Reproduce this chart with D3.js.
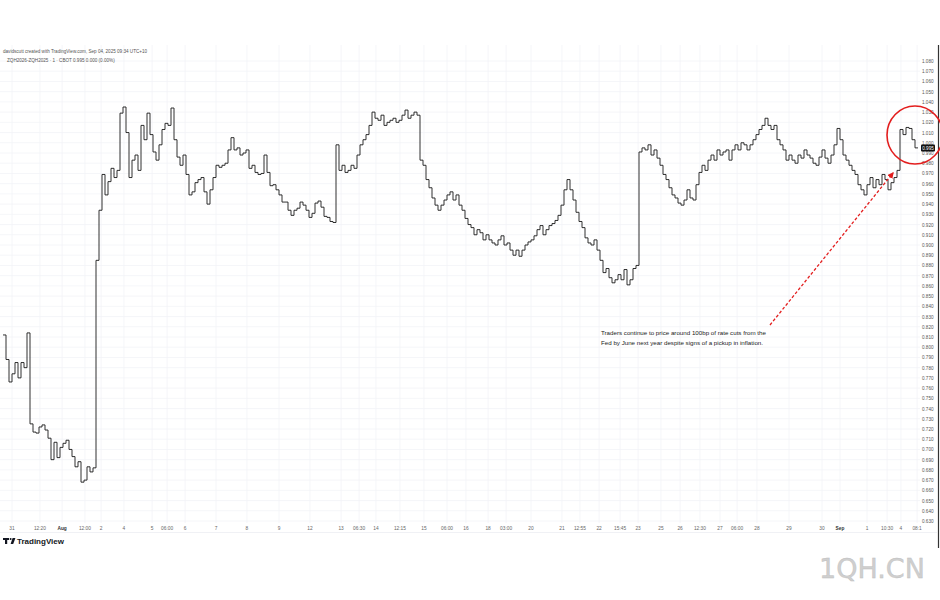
<!DOCTYPE html>
<html><head><meta charset="utf-8">
<script src="https://cdn.jsdelivr.net/npm/d3@7/dist/d3.min.js"></script>
<style>html,body{margin:0;padding:0;background:#fff;}svg{display:block;font-family:"Liberation Sans",Arial,sans-serif;}</style>
</head><body><svg id="c" width="940" height="600"></svg>
<script>
// Spread price per bar (ZQH2026-ZQH2025)
const prices = [
0.812,0.788,0.766,0.774,0.785,0.770,0.785,0.780,0.814,0.725,
0.717,0.716,0.722,0.724,0.719,0.711,0.690,0.707,0.692,0.702,
0.706,0.709,0.700,0.693,0.683,0.688,0.668,0.670,0.683,0.678,
0.682,0.885,0.934,0.969,0.949,0.962,0.975,0.966,0.973,1.029,
1.035,1.010,0.966,0.983,0.988,0.973,1.017,1.003,1.029,1.008,
0.991,0.983,0.998,1.013,1.019,1.017,1.034,1.003,0.986,0.978,
0.988,0.969,0.949,0.952,0.961,0.964,0.966,0.952,0.940,0.954,
0.966,0.978,0.976,0.978,0.980,0.993,1.005,0.993,0.995,0.988,
0.990,0.993,0.975,0.978,0.971,0.969,0.970,0.988,0.971,0.958,
0.959,0.954,0.949,0.942,0.942,0.934,0.929,0.934,0.936,0.942,
0.939,0.934,0.927,0.931,0.941,0.943,0.937,0.928,0.927,0.923,
0.922,0.998,0.973,0.978,0.971,0.973,0.978,0.975,0.988,0.998,
1.003,1.008,1.017,1.030,1.024,1.022,1.027,1.017,1.020,1.022,
1.024,1.020,1.022,1.027,1.032,1.024,1.027,1.030,1.027,0.983,
0.978,0.964,0.956,0.946,0.939,0.934,0.939,0.944,0.949,0.952,
0.944,0.949,0.939,0.934,0.926,0.920,0.917,0.910,0.915,0.912,
0.905,0.910,0.905,0.902,0.900,0.905,0.909,0.900,0.902,0.895,
0.890,0.895,0.889,0.895,0.900,0.903,0.905,0.909,0.915,0.919,
0.910,0.915,0.919,0.921,0.924,0.929,0.939,0.954,0.964,0.954,
0.944,0.932,0.923,0.917,0.907,0.902,0.900,0.905,0.895,0.885,
0.873,0.877,0.868,0.863,0.866,0.871,0.866,0.876,0.861,0.866,
0.877,0.880,0.991,0.995,0.993,0.998,0.988,0.993,0.985,0.978,
0.969,0.964,0.956,0.949,0.946,0.941,0.939,0.944,0.954,0.946,
0.944,0.959,0.971,0.978,0.973,0.983,0.988,0.983,0.993,0.988,
0.991,0.993,0.983,0.993,0.998,0.993,1.000,0.998,0.993,0.998,
1.003,1.008,1.013,1.017,1.024,1.017,1.013,1.017,1.003,0.998,
0.993,0.983,0.988,0.983,0.980,0.988,0.985,0.993,0.988,0.985,
0.980,0.978,0.986,0.993,0.985,0.980,0.988,0.998,1.014,1.003,
0.988,0.983,0.978,0.973,0.969,0.959,0.954,0.949,0.959,0.966,
0.956,0.964,0.959,0.969,0.964,0.954,0.961,0.966,0.973,1.013,
1.008,1.015,1.014,1.003,0.995,0.995
];
const lastPrice = "0.995";
const priceTicks = d3.range(63, 109).map(v => v / 100);
const timeLabels = ["31","12:20","Aug","12:00","2","4","5","06:00","6","7","8","9","12","13","06:30","14","12:15","15","06:00","16","18","03:00","20","21","12:55","22","15:45","23","25","26","12:30","27","06:00","28","29","30","Sep","1","10:30","4","08:1"];
const timeBars = [3,12.3,19.7,27.3,32.7,40.3,49.7,54.7,60.7,71,81.3,92,102.3,112.7,118.7,124.3,132.3,140.3,148,154.3,161.7,167.7,176,186.3,192.3,198.7,205.7,211.7,219.3,225.7,232.3,239,244.7,251.3,262,273,279,288,294.7,299.3,304.7];
const boldLabels = ["Aug","Sep"];
const headerLine1 = "davidscutt created with TradingView.com, Sep 04, 2025 09:34 UTC+10";
const headerLine2 = "ZQH2026-ZQH2025 · 1 · CBOT   0.995   0.000 (0.00%)";
const noteLines = ["Traders continue to price around 100bp of rate cuts from the","Fed by June next year despite signs of a pickup in inflation."];

const svg = d3.select("#c");
const x = d3.scaleLinear().domain([0, prices.length - 1]).range([3, 918]);
const y = d3.scaleLinear().domain([0.63, 1.08]).range([521, 61]);

// grid
const g = svg.append("g");
g.selectAll("line.h").data(priceTicks).join("line")
  .attr("x1", 0).attr("x2", 920).attr("y1", d => y(d)).attr("y2", d => y(d))
  .attr("stroke", "#f3f4f7").attr("stroke-width", 0.8);
g.selectAll("line.v").data(timeBars).join("line")
  .attr("x1", d => x(d)).attr("x2", d => x(d)).attr("y1", 45).attr("y2", 523)
  .attr("stroke", "#f3f4f7").attr("stroke-width", 0.8);

// price axis labels
const yAxis = d3.axisRight(y).tickValues(priceTicks).tickFormat(d3.format(".3f")).tickSize(0).tickPadding(0);
const ya = svg.append("g").attr("transform", "translate(922,0)").call(yAxis);
ya.select(".domain").remove();
ya.selectAll("text").attr("font-size", 4.6).attr("fill", "#555").attr("font-family", "Liberation Sans, Arial, sans-serif");

// time axis
const tg = svg.append("g");
tg.append("line").attr("x1", 0).attr("x2", 937).attr("y1", 532.5).attr("y2", 532.5).attr("stroke", "#eceef2").attr("stroke-width", 0.8);
tg.selectAll("text").data(timeLabels).join("text")
  .attr("x", (d, i) => x(timeBars[i])).attr("y", 529.5)
  .attr("text-anchor", "middle").attr("font-size", 4.8)
  .attr("font-weight", d => boldLabels.includes(d) ? "bold" : "normal")
  .attr("fill", d => boldLabels.includes(d) ? "#333" : "#666")
  .text(d => d);

// price line (stepped)
const line = d3.line().x((d, i) => x(i)).y(d => y(d)).curve(d3.curveStepAfter);
svg.append("path").datum(prices).attr("d", line)
  .attr("fill", "none").attr("stroke", "#1a1a1a").attr("stroke-width", 0.9);

// last price badge
const ly = y(+lastPrice);
svg.append("rect").attr("x", 921).attr("y", ly - 3.5).attr("width", 14).attr("height", 7).attr("rx", 1).attr("fill", "#111");
svg.append("text").attr("x", 928).attr("y", ly + 1.7).attr("text-anchor", "middle").attr("font-size", 4.6).attr("fill", "#fff").text(lastPrice);

// right frame line
svg.append("line").attr("x1", 938.5).attr("x2", 938.5).attr("y1", 45).attr("y2", 548).attr("stroke", "#333").attr("stroke-width", 1.2);

// header
svg.append("text").attr("x", 3).attr("y", 53).attr("font-size", 4.6).attr("fill", "#555").text(headerLine1);
svg.append("text").attr("x", 7).attr("y", 62).attr("font-size", 4.6).attr("fill", "#555").text(headerLine2);

// annotation
svg.append("g").selectAll("text").data(noteLines).join("text")
  .attr("x", 601).attr("y", (d, i) => 335 + i * 9.5)
  .attr("font-size", 6.2).attr("fill", "#222").text(d => d);

// red dashed arrow
const defs = svg.append("defs");
defs.append("marker").attr("id", "ah").attr("viewBox", "0 0 10 10").attr("refX", 8).attr("refY", 5)
  .attr("markerWidth", 5).attr("markerHeight", 5).attr("orient", "auto")
  .append("path").attr("d", "M0,0L10,5L0,10z").attr("fill", "#e31e1e");
svg.append("line").attr("x1", 770).attr("y1", 325).attr("x2", 893).attr("y2", 173)
  .attr("stroke", "#e31e1e").attr("stroke-width", 1.3).attr("stroke-dasharray", "3,2").attr("marker-end", "url(#ah)");

// red circle
svg.append("ellipse").attr("cx", 915).attr("cy", 135).attr("rx", 28).attr("ry", 29)
  .attr("fill", "none").attr("stroke", "#e31e1e").attr("stroke-width", 1.6);

// TradingView logo
const logo = svg.append("g").attr("transform", "translate(3,538)");
logo.append("path").attr("d", "M0,0H6V2H4.2V6H2V2H0Z").attr("fill", "#131722");
logo.append("circle").attr("cx", 7.6).attr("cy", 1).attr("r", 1).attr("fill", "#131722");
logo.append("path").attr("d", "M9.6,0H12.4L10.2,6H7.6Z").attr("fill", "#131722");
logo.append("text").attr("x", 14).attr("y", 6.3).attr("font-size", 8).attr("font-weight", "bold").attr("fill", "#131722").text("TradingView");

// watermark
svg.append("text").attr("x", 819).attr("y", 578).attr("font-size", 27).attr("font-family", "DejaVu Sans, sans-serif")
  .attr("fill", "#cfcfcf").attr("stroke", "#bdbdbd").attr("stroke-width", 0.4).text("1QH.CN");
</script></body></html>
